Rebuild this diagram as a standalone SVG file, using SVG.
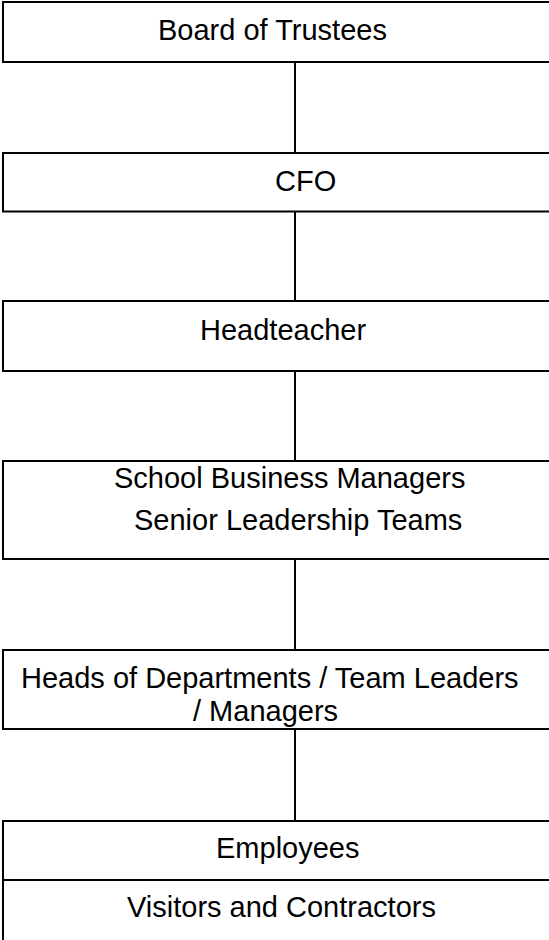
<svg xmlns="http://www.w3.org/2000/svg" width="549" height="940" viewBox="0 0 549 940">
<style>
.box{fill:#fff;stroke:#000;stroke-width:2}
.conn{stroke:#000;stroke-width:2;fill:none}
text{font-family:"Liberation Sans",Arial,sans-serif;font-size:29px;fill:#000}
</style>
<rect width="549" height="940" fill="#fff"/>
<g id="connectors">
<line class="conn" x1="295" y1="62" x2="295" y2="153"/>
<line class="conn" x1="295" y1="211.5" x2="295" y2="301"/>
<line class="conn" x1="295" y1="371" x2="295" y2="461"/>
<line class="conn" x1="295" y1="559" x2="295" y2="650"/>
<line class="conn" x1="295" y1="729" x2="295" y2="821"/>
</g>
<g id="board">
<rect class="box" x="3" y="2" width="560" height="60"/>
<text x="158" y="40">Board of Trustees</text>
</g>
<g id="cfo">
<rect class="box" x="3" y="153" width="560" height="58.5"/>
<text x="275" y="190.5">CFO</text>
</g>
<g id="headteacher">
<rect class="box" x="3" y="301" width="560" height="70"/>
<text x="200" y="340">Headteacher</text>
</g>
<g id="sbm">
<rect class="box" x="3" y="461" width="560" height="98"/>
<text x="114" y="488">School Business Managers</text>
<text x="134" y="530">Senior Leadership Teams</text>
</g>
<g id="hod">
<rect class="box" x="3" y="650" width="560" height="79"/>
<text x="21" y="688">Heads of Departments / Team Leaders</text>
<text x="193" y="720.5">/ Managers</text>
</g>
<g id="employees">
<rect class="box" x="3" y="821" width="560" height="140"/>
<line class="conn" x1="3" y1="880" x2="563" y2="880"/>
<text x="216" y="858">Employees</text>
<text x="127" y="917">Visitors and Contractors</text>
</g>
</svg>
